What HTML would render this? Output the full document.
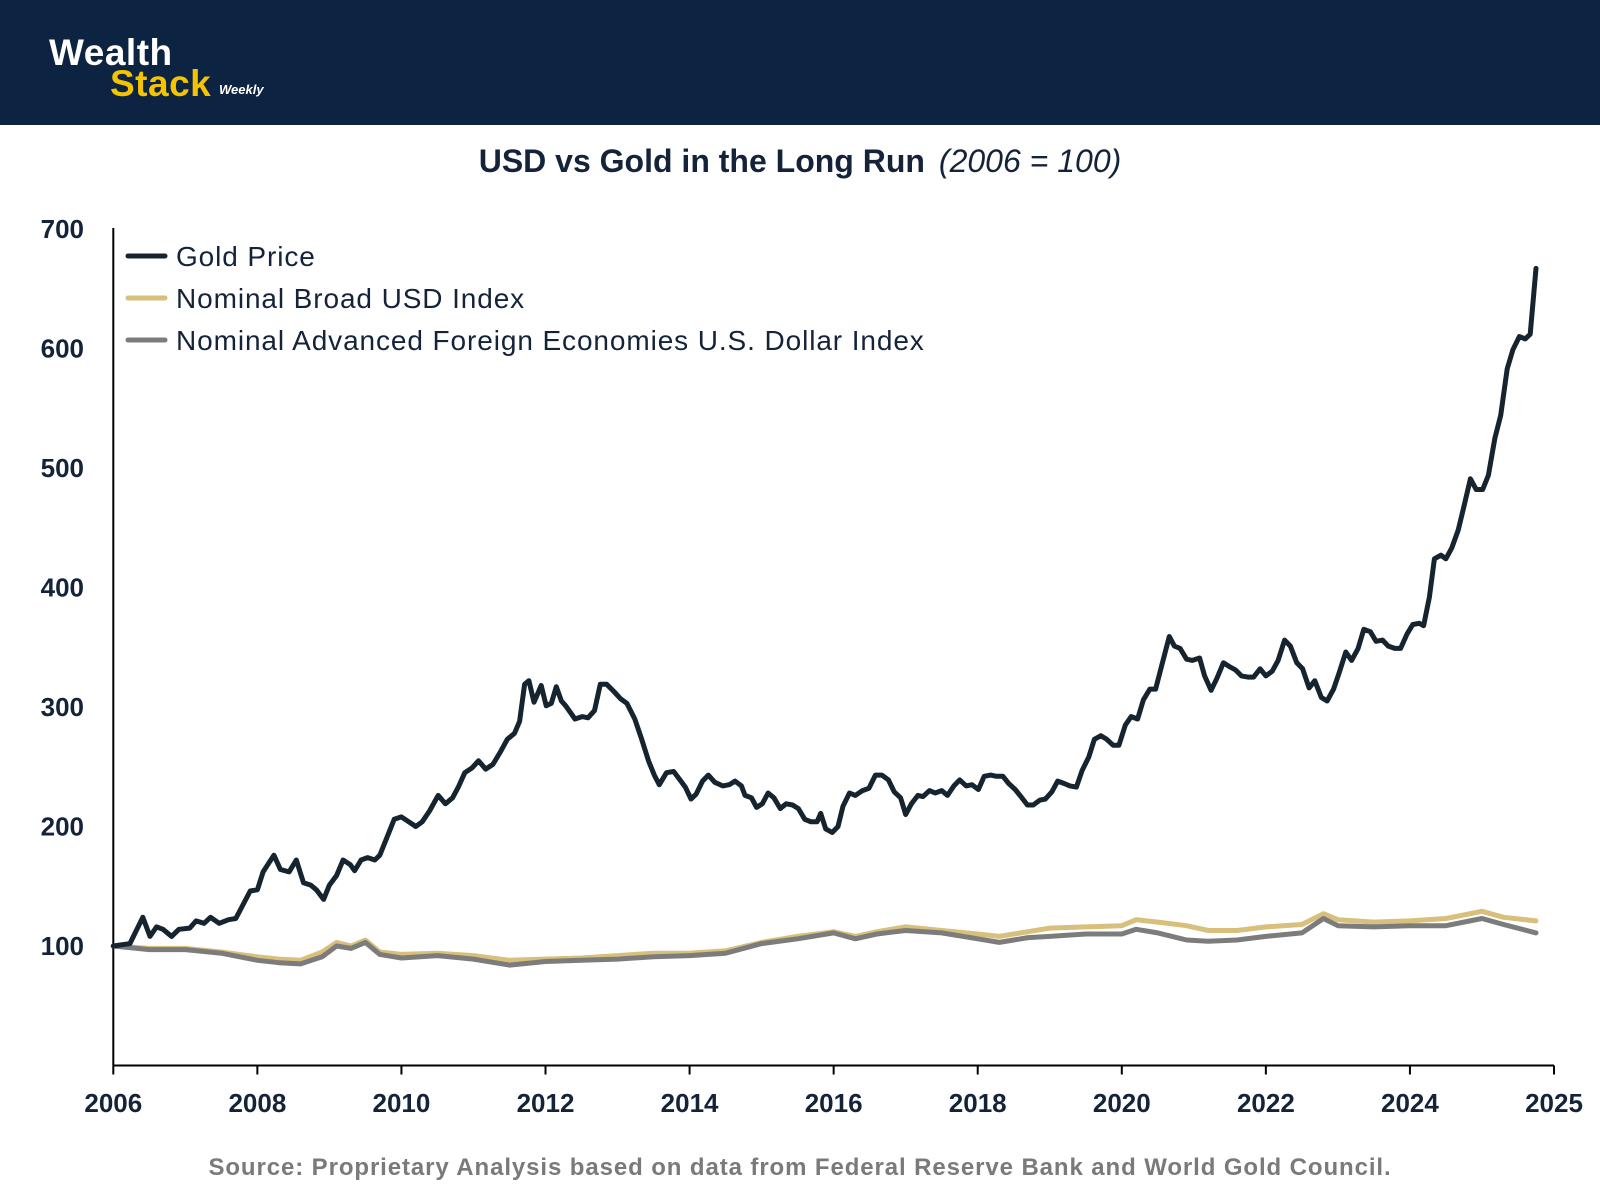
<!DOCTYPE html>
<html><head><meta charset="utf-8"><style>
body{margin:0;background:#fff;}
svg{display:block;font-family:"Liberation Sans",sans-serif;}
</style></head><body>
<svg id="chart" width="1600" height="1200" viewBox="0 0 1600 1200">
<rect x="0" y="0" width="1600" height="125" fill="#0c2442"/>
<text x="49" y="65" font-size="37" font-weight="bold" fill="#fff" letter-spacing="0.5">Wealth</text>
<text x="110" y="96" font-size="37" font-weight="bold" fill="#f5c400" letter-spacing="0.5">Stack</text>
<text x="219" y="94" font-size="13" font-weight="bold" font-style="italic" fill="#fff">Weekly</text>
<text x="800" y="172" text-anchor="middle" font-size="32" fill="#14233a"><tspan font-weight="bold">USD vs Gold in the Long Run</tspan><tspan font-style="italic" dx="14">(2006 = 100)</tspan></text>
<g id="axes"></g>
<g id="series"></g>
<g id="legend"></g>
<text x="800" y="1175" text-anchor="middle" font-size="24" font-weight="bold" fill="#7a7a7a" letter-spacing="0.9">Source: Proprietary Analysis based on data from Federal Reserve Bank and World Gold Council.</text>
</svg>
<script>
const xTickYears=[2006,2008,2010,2012,2014,2016,2018,2020,2022,2024,2026];
const xTickLabels=["2006","2008","2010","2012","2014","2016","2018","2020","2022","2024","2025"];
const yTicks=[100,200,300,400,500,600,700];
const goldYears=[2006.00,2006.23,2006.41,2006.51,2006.60,2006.69,2006.81,2006.91,2007.06,2007.15,2007.26,2007.35,2007.47,2007.60,2007.70,2007.90,2008.00,2008.08,2008.23,2008.32,2008.44,2008.54,2008.64,2008.74,2008.82,2008.92,2009.00,2009.10,2009.19,2009.29,2009.35,2009.44,2009.53,2009.63,2009.70,2009.80,2009.90,2010.00,2010.10,2010.20,2010.29,2010.39,2010.51,2010.61,2010.71,2010.79,2010.88,2010.98,2011.07,2011.17,2011.27,2011.37,2011.47,2011.57,2011.64,2011.71,2011.77,2011.84,2011.94,2012.01,2012.08,2012.15,2012.22,2012.28,2012.41,2012.51,2012.59,2012.68,2012.76,2012.85,2012.95,2013.04,2013.13,2013.24,2013.33,2013.43,2013.51,2013.58,2013.68,2013.78,2013.88,2013.94,2014.02,2014.09,2014.18,2014.26,2014.35,2014.46,2014.55,2014.63,2014.72,2014.77,2014.86,2014.93,2015.01,2015.09,2015.17,2015.26,2015.34,2015.43,2015.51,2015.60,2015.68,2015.77,2015.82,2015.89,2015.98,2016.06,2016.13,2016.22,2016.30,2016.40,2016.49,2016.58,2016.67,2016.76,2016.84,2016.93,2017.00,2017.08,2017.17,2017.24,2017.33,2017.41,2017.50,2017.58,2017.67,2017.75,2017.84,2017.92,2018.01,2018.09,2018.18,2018.26,2018.35,2018.43,2018.52,2018.60,2018.69,2018.77,2018.86,2018.94,2019.03,2019.11,2019.20,2019.28,2019.37,2019.45,2019.54,2019.62,2019.71,2019.79,2019.88,2019.96,2020.05,2020.13,2020.22,2020.30,2020.39,2020.47,2020.56,2020.66,2020.73,2020.81,2020.90,2020.98,2021.08,2021.15,2021.24,2021.32,2021.41,2021.49,2021.58,2021.66,2021.75,2021.83,2021.92,2022.00,2022.09,2022.17,2022.26,2022.34,2022.43,2022.51,2022.60,2022.68,2022.77,2022.85,2022.94,2023.02,2023.11,2023.19,2023.28,2023.36,2023.45,2023.53,2023.62,2023.70,2023.79,2023.87,2023.96,2024.04,2024.13,2024.19,2024.27,2024.34,2024.43,2024.50,2024.58,2024.67,2024.75,2024.84,2024.92,2025.01,2025.09,2025.18,2025.26,2025.35,2025.43,2025.52,2025.60,2025.67,2025.75];
const goldValues=[100,102,124,108,116,114,108,114,115,121,119,124,119,122,123,146,147,162,176,164,162,172,153,151,147,139,151,159,172,168,163,172,174,172,176,191,206,208,204,200,204,213,226,219,224,233,245,249,255,248,252,262,273,278,288,319,322,304,318,301,303,317,305,301,290,292,291,297,319,319,313,307,303,290,274,255,243,235,245,246,238,233,223,227,238,243,237,234,235,238,234,226,224,216,219,228,224,215,219,218,215,206,204,204,211,198,195,200,217,228,226,230,232,243,243,239,229,224,210,219,226,225,230,228,230,226,234,239,234,235,231,242,243,242,242,236,231,225,218,218,222,223,229,238,236,234,233,247,258,273,276,273,268,268,285,292,290,306,315,315,336,359,351,349,340,339,341,326,314,324,337,334,331,326,325,325,332,326,330,339,356,351,337,332,316,322,308,305,315,329,346,339,349,365,363,355,356,351,349,349,361,369,370,368,392,424,427,424,433,448,468,491,482,482,494,525,544,583,599,610,608,612,667];
const usdYears=[2006,2006.5,2007,2007.5,2008,2008.3,2008.6,2008.9,2009.1,2009.3,2009.5,2009.7,2010,2010.5,2011,2011.5,2012,2012.5,2013,2013.5,2014,2014.5,2015,2015.5,2016,2016.3,2016.6,2017,2017.5,2018,2018.3,2018.7,2019,2019.5,2020,2020.2,2020.5,2020.9,2021.2,2021.6,2022,2022.5,2022.8,2023,2023.5,2024,2024.5,2025,2025.3,2025.75];
const broadValues=[100,98,98,95,91,89,88,95,103,100,105,95,93,94,92,88,89,90,92,94,94,96,103,108,112,108,112,116,113,110,108,112,115,116,117,122,120,117,113,113,116,118,127,122,120,121,123,129,124,121];
const afeValues=[100,97,97,94,88,86,85,91,100,98,103,93,90,92,89,84,87,88,89,91,92,94,102,106,111,106,110,113,111,106,103,107,108,110,110,114,111,105,104,105,108,111,123,117,116,117,117,123,118,111];

const NS="http://www.w3.org/2000/svg";
const X0=113.3,X1=1554,Y0=1065.5,YS=1.195;
function xScale(yr){return X0+(yr-2006)/(2026-2006)*(X1-X0);}
function yScale(v){return Y0-v*YS;}
function mk(tag,attrs,parent){const e=document.createElementNS(NS,tag);for(const k in attrs)e.setAttribute(k,attrs[k]);parent.appendChild(e);return e;}
const axes=document.getElementById('axes');
let e=mk('line',{x1:X0,y1:yScale(700)-1,x2:X0,y2:Y0,stroke:'#000','stroke-width':2},axes);


e=mk('line',{x1:X0,y1:Y0,x2:X1,y2:Y0,stroke:'#000','stroke-width':2},axes);


xTickYears.forEach((yr,i)=>{
  const x=xScale(yr);
  let t=mk('line',{x1:x,y1:Y0,x2:x,y2:Y0+9,stroke:'#000','stroke-width':2},axes);
  
  
  let l=mk('text',{x:x,y:1112,'text-anchor':'middle','font-size':26,'font-weight':'bold',fill:'#14233a'},axes);
  l.textContent=xTickLabels[i];
  
  
});
yTicks.forEach(v=>{
  const y=yScale(v);
  let l=mk('text',{x:84,y:y+9,'text-anchor':'end','font-size':26,'font-weight':'bold',fill:'#14233a'},axes);
  l.textContent=String(v);
  
  
});
const series=document.getElementById('series');
function path(xs,vs,color,name){
  const n=Math.min(xs.length,vs.length);
  let d='';
  for(let i=0;i<n;i++)d+=(i?'L':'M')+xScale(xs[i]).toFixed(1)+' '+yScale(vs[i]).toFixed(1)+' ';
  const p=mk('path',{d:d,fill:'none',stroke:color,'stroke-width':5,'stroke-linejoin':'round','stroke-linecap':'round'},series);
  
  
}
path(usdYears,broadValues,'#d8bf7c','broad-usd-line');
path(usdYears,afeValues,'#7c7c7c','afe-usd-line');
path(goldYears,goldValues,'#15242f','gold-price-line');
const legend=document.getElementById('legend');
const legendLabels=["Gold Price","Nominal Broad USD Index","Nominal Advanced Foreign Economies U.S. Dollar Index"];
const legendColors=['#15242f','#d8bf7c','#7c7c7c'];
legendLabels.forEach((lab,i)=>{
  const y=256+i*42;
  let s=mk('line',{x1:128,y1:y,x2:165,y2:y,stroke:legendColors[i],'stroke-width':5,'stroke-linecap':'round'},legend);
  
  
  let t=mk('text',{x:176,y:y+10,'font-size':28,fill:'#14233a','letter-spacing':0.9},legend);
  t.textContent=lab;
  
  
});
</script>
</body></html>
